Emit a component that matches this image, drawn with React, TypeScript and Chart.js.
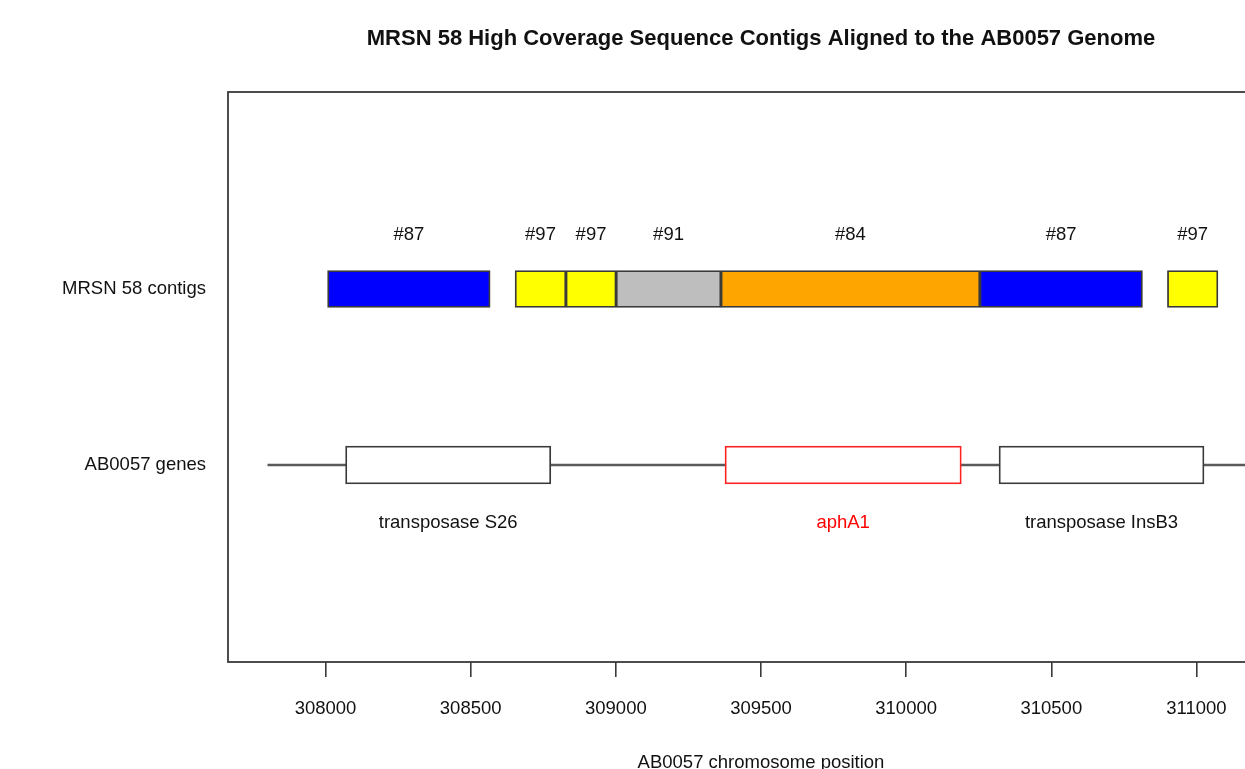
import React, { useEffect, useRef } from "react";
import { Chart, registerables } from "chart.js";

Chart.register(...registerables);

// ---- data ----
const contigStarts = [308007, 308653, 308828, 309001, 309362, 310254, 310900];
const contigEnds = [308567, 308828, 309001, 309362, 310254, 310814, 311074];
const contigLabels = ["#87", "#97", "#97", "#91", "#84", "#87", "#97"];
const contigColors = ["#0000FF", "#FFFF00", "#FFFF00", "#BEBEBE", "#FFA500", "#0000FF", "#FFFF00"];

const geneStarts = [308069, 309376, 310320];
const geneEnds = [308776, 310190, 311026];
const geneLabels = ["transposase S26", "aphA1", "transposase InsB3"];
const geneBorderColors = ["#3a3a3a", "#FF2020", "#3a3a3a"];
const geneLabelColors = ["#111111", "#FF0000", "#111111"];

const backbone = [307800, 311200];

const rowValues = [1, 2];
const rowLabels = ["AB0057 genes", "MRSN 58 contigs"];
const xTicks = [308000, 308500, 309000, 309500, 310000, 310500, 311000];

const titleText = "MRSN 58 High Coverage Sequence Contigs Aligned to the AB0057 Genome";
const xTitle = "AB0057 chromosome position";

const X_MIN = 307664;
const X_MAX = 311336;
const Y_MIN = -0.12;
const Y_MAX = 3.12;

const FONT = "'Liberation Sans', Arial, sans-serif";
const FS = 18.5;
const W = 1340;
const H = 800;

export default function App() {
  const ref = useRef<HTMLCanvasElement | null>(null);

  useEffect(() => {
    if (!ref.current) return;
    const labelPlugin = {
      id: "rowLabels",
      afterDatasetsDraw(chart: any) {
        const ctx = chart.ctx;
        const y = chart.scales.y;
        ctx.save();
        ctx.font = `${FS}px ${FONT}`;
        ctx.textAlign = "center";
        ctx.textBaseline = "middle";
        const m0 = chart.getDatasetMeta(1);
        m0.data.forEach((el: any, i: number) => {
          const p = el.getProps(["x", "base"], true);
          const cx = (p.x + p.base) / 2;
          ctx.fillStyle = "#111";
          ctx.fillText(contigLabels[i], cx, y.getPixelForValue(rowValues[1] + 0.31));
        });
        const m1 = chart.getDatasetMeta(2);
        m1.data.forEach((el: any, i: number) => {
          const p = el.getProps(["x", "base"], true);
          const cx = (p.x + p.base) / 2;
          ctx.fillStyle = geneLabelColors[i];
          ctx.fillText(geneLabels[i], cx, y.getPixelForValue(rowValues[0] - 0.33));
        });
        ctx.restore();
      },
      afterDraw(chart: any) {
        const ctx = chart.ctx;
        const a = chart.chartArea;
        ctx.save();
        ctx.strokeStyle = "#3a3a3a";
        ctx.lineWidth = 1.8;
        ctx.strokeRect(a.left, a.top, a.right - a.left, a.bottom - a.top);
        ctx.font = `bold 22px ${FONT}`;
        ctx.fillStyle = "#111";
        ctx.textAlign = "center";
        ctx.textBaseline = "middle";
        ctx.fillText(titleText, (a.left + a.right) / 2, 39);
        ctx.restore();
      },
    };

    const chart = new Chart(ref.current, {
      type: "bar",
      data: {
        datasets: [
          {
            type: "line",
            data: backbone.map((v) => ({ x: v, y: rowValues[0] })),
            borderColor: "#5a5a5a",
            borderWidth: 2.6,
            pointRadius: 0,
            order: 5,
          } as any,
          {
            data: contigStarts.map((s, i) => ({ x: [s, contigEnds[i]], y: rowValues[1] })),
            backgroundColor: contigColors,
            borderColor: "#3a3a3a",
            borderWidth: 1.8,
            borderSkipped: false,
            barThickness: 37,
            grouped: false,
            order: 1,
          },
          {
            data: geneStarts.map((s, i) => ({ x: [s, geneEnds[i]], y: rowValues[0] })),
            backgroundColor: "#FFFFFF",
            borderColor: geneBorderColors,
            borderWidth: 1.8,
            borderSkipped: false,
            barThickness: 38,
            grouped: false,
            order: 1,
          },
        ],
      },
      options: {
        indexAxis: "y",
        responsive: false,
        animation: false,
        layout: { padding: { left: 0, top: 92, right: W - 1294, bottom: 0 } },
        plugins: { legend: { display: false }, tooltip: { enabled: false }, title: { display: false } },
        scales: {
          x: {
            type: "linear",
            position: "bottom",
            min: X_MIN,
            max: X_MAX,
            afterBuildTicks: (s: any) => {
              s.ticks = xTicks.map((v) => ({ value: v }));
            },
            afterFit: (s: any) => {
              s.height = H - 662;
            },
            ticks: {
              callback: (v: any) => String(v),
              color: "#111",
              font: { family: FONT, size: FS },
              padding: 21,
              maxRotation: 0,
              autoSkip: false,
            },
            grid: { drawOnChartArea: false, drawTicks: true, tickLength: 15, color: "#3a3a3a", lineWidth: 1.6 },
            border: { display: false },
            title: {
              display: true,
              text: xTitle,
              color: "#111",
              font: { family: FONT, size: FS },
              padding: { top: 0, bottom: 26 },
            },
          },
          y: {
            type: "linear",
            min: Y_MIN,
            max: Y_MAX,
            offset: false,
            afterBuildTicks: (s: any) => {
              s.ticks = rowValues.map((v) => ({ value: v }));
            },
            afterFit: (s: any) => {
              s.width = 228;
            },
            ticks: {
              callback: (v: any) => rowLabels[rowValues.indexOf(v)] ?? "",
              color: "#111",
              font: { family: FONT, size: FS },
              padding: 22,
              autoSkip: false,
            },
            grid: { display: false, drawTicks: false },
            border: { display: false },
          },
        },
      },
      plugins: [labelPlugin],
    } as any);
    return () => chart.destroy();
  }, []);

  return (
    <div style={{ position: "fixed", left: 0, top: 0, width: 1245, height: 769, overflow: "hidden", background: "#fff" }}>
      <canvas ref={ref} width={W} height={H} style={{ display: "block", width: W, height: H }} />
    </div>
  );
}
